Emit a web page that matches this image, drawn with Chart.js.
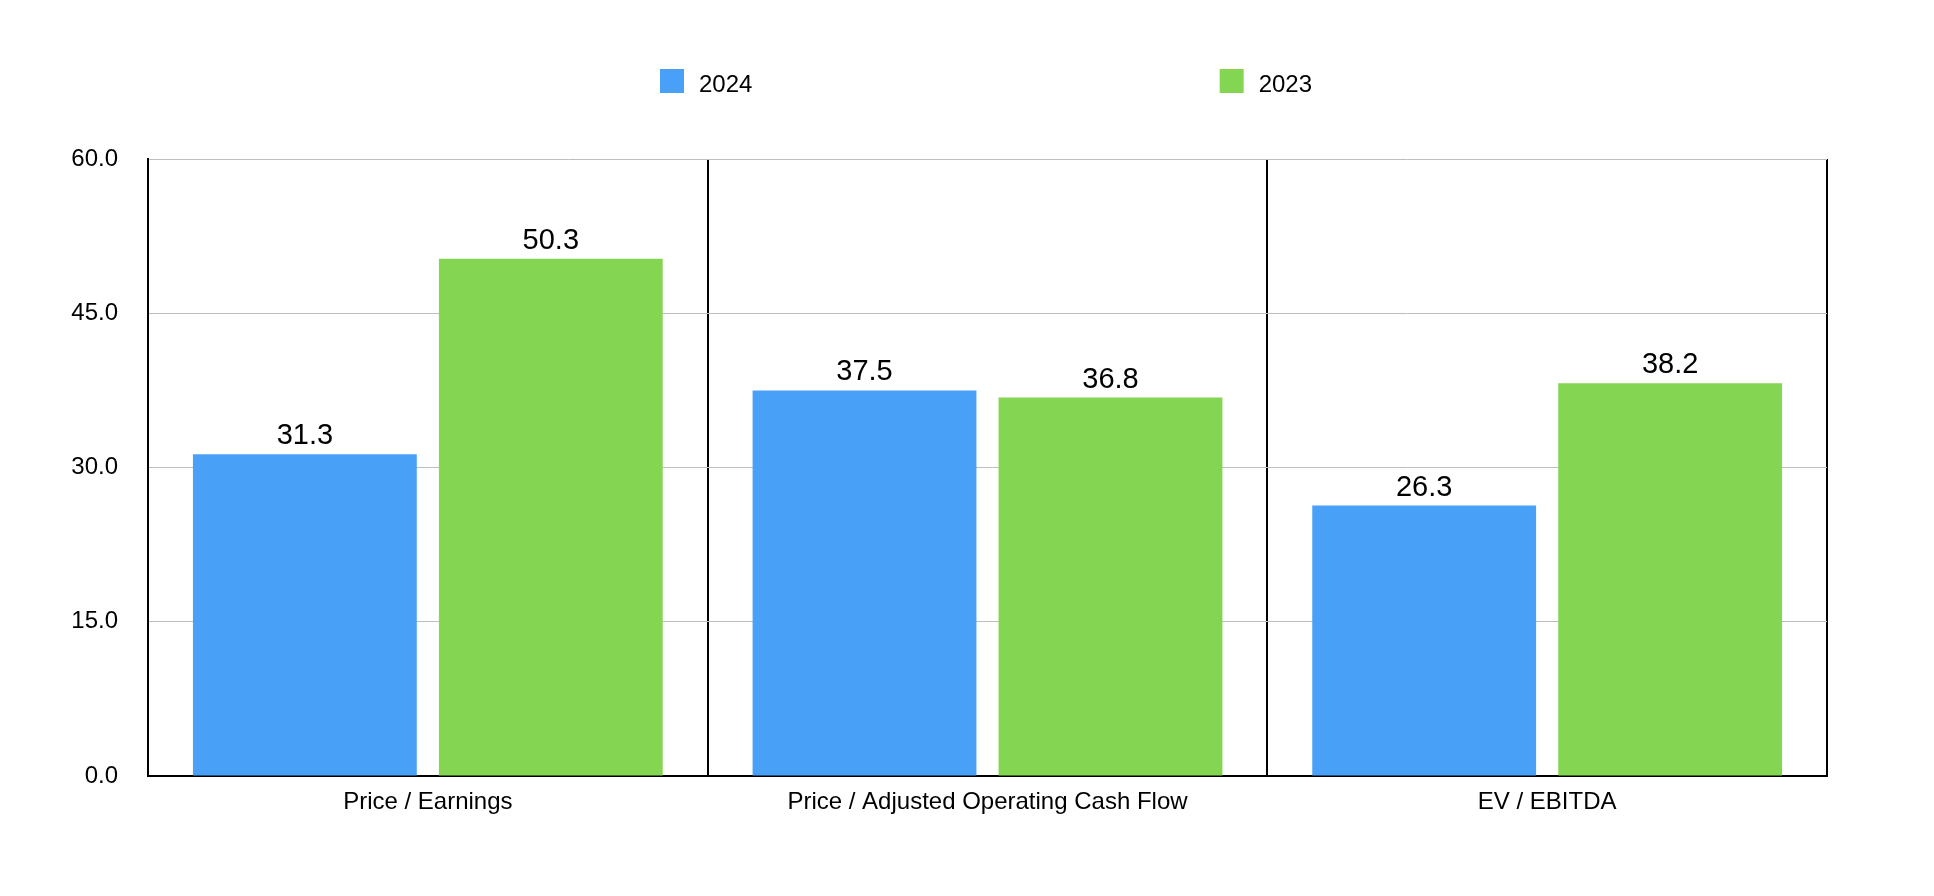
<!DOCTYPE html>
<html>
<head>
<meta charset="utf-8">
<style>
  html, body { margin: 0; padding: 0; background: #ffffff; }
  #wrap { width: 1934px; height: 896px; }
  canvas { display: block; }
</style>
<script src="https://cdn.jsdelivr.net/npm/chart.js@4.4.0/dist/chart.umd.min.js"></script>
</head>
<body>
<div id="wrap"><canvas id="c" width="1934" height="896"></canvas></div>
<script>
const categories = ['Price / Earnings', 'Price / Adjusted Operating Cash Flow', 'EV / EBITDA'];
const seriesNames = ['2024', '2023'];
const values2024 = [31.3, 37.5, 26.3];
const values2023 = [50.3, 36.8, 38.2];
const yTickValues = [0, 15, 30, 45, 60];

const FONT = "'Liberation Sans', Arial, Helvetica, sans-serif";
const BLUE = '#49a0f7';
const GREEN = '#84d652';

const valueLabels = {
  id: 'valueLabels',
  afterDatasetsDraw(chart) {
    const ctx = chart.ctx;
    ctx.save();
    ctx.font = '29px ' + FONT;
    ctx.fillStyle = '#000';
    ctx.textAlign = 'center';
    ctx.textBaseline = 'alphabetic';
    chart.data.datasets.forEach((ds, di) => {
      const meta = chart.getDatasetMeta(di);
      meta.data.forEach((bar, i) => {
        ctx.fillText(Number(ds.data[i]).toFixed(1), bar.x, bar.y - 10);
      });
    });
    ctx.restore();
  }
};

const spreadLegend = {
  id: 'spreadLegend',
  afterDraw(chart) {
    const ctx = chart.ctx;
    const a = chart.chartArea;
    const start = a.left + 512;
    const step = (a.right - a.left) / 3;
    ctx.save();
    ctx.font = '24px ' + FONT;
    ctx.textAlign = 'left';
    ctx.textBaseline = 'alphabetic';
    chart.data.datasets.forEach((ds, i) => {
      const x = start + i * step;
      ctx.fillStyle = ds.backgroundColor;
      ctx.fillRect(x, 69, 24, 24);
      ctx.fillStyle = '#000';
      ctx.fillText(ds.label, x + 39, 91.5);
    });
    ctx.restore();
  }
};

new Chart(document.getElementById('c'), {
  type: 'bar',
  data: {
    labels: categories,
    datasets: [
      { label: seriesNames[0], data: values2024, backgroundColor: BLUE, borderWidth: 0 },
      { label: seriesNames[1], data: values2023, backgroundColor: GREEN, borderWidth: 0 }
    ]
  },
  options: {
    responsive: false,
    animation: false,
    devicePixelRatio: 1,
    barPercentage: 0.91,
    categoryPercentage: 0.879,
    layout: { padding: { left: 0, right: 107, top: 159, bottom: 60 } },
    plugins: {
      legend: { display: false },
      tooltip: { enabled: false },
      title: { display: false }
    },
    scales: {
      x: {
        offset: true,
        grid: { color: '#000', lineWidth: 2, offset: true, drawTicks: false },
        border: { color: '#000', width: 2 },
        ticks: { color: '#000', font: { family: FONT, size: 24 }, padding: 12, maxRotation: 0 },
        afterFit(s) { s.height = 60; }
      },
      y: {
        min: 0,
        max: 60,
        afterBuildTicks(s) { s.ticks = yTickValues.map(v => ({ value: v })); },
        grid: {
          color: (c) => (c.tick && c.tick.value === 0) ? 'rgba(0,0,0,0)' : '#bdbdbd',
          lineWidth: 1,
          drawTicks: false
        },
        border: { color: '#000', width: 2 },
        ticks: {
          color: '#000',
          font: { family: FONT, size: 24 },
          padding: 30,
          callback: (v) => Number(v).toFixed(1)
        },
        afterFit(s) { s.width = 148; }
      }
    }
  },
  plugins: [valueLabels, spreadLegend]
});
</script>
</body>
</html>
